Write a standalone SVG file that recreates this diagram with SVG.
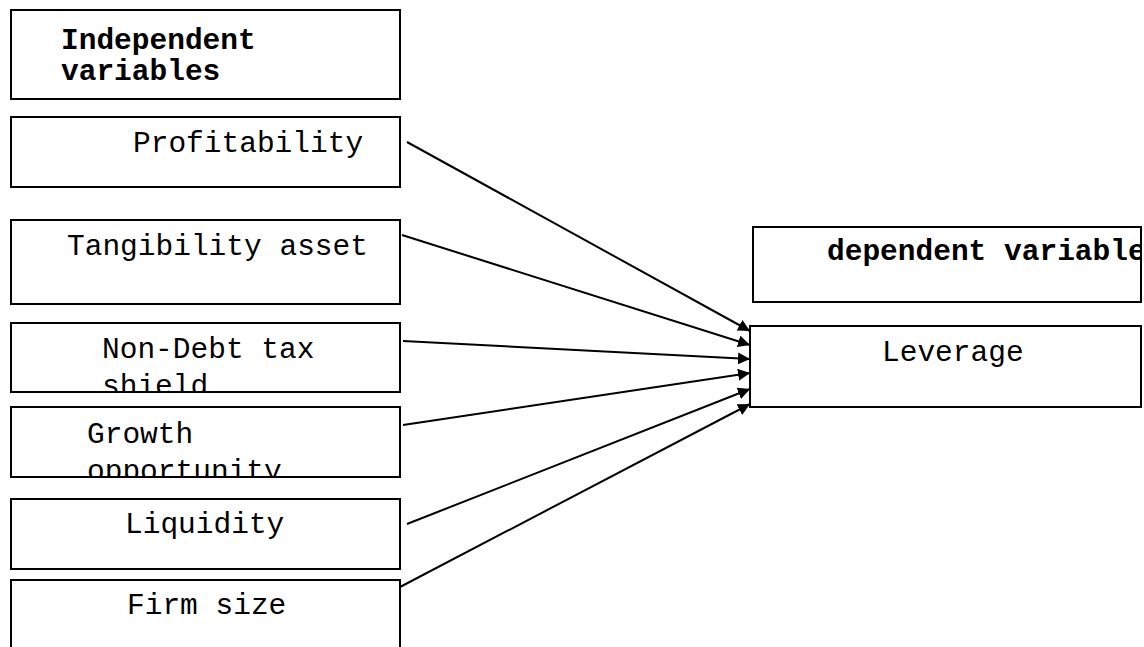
<svg xmlns="http://www.w3.org/2000/svg" width="1144" height="647" viewBox="0 0 1144 647">
  <style>
    .box { fill: #fff; stroke: #000; stroke-width: 2; }
    .t { font-family: "Liberation Mono", "Courier New", monospace; font-size: 29.5px; fill: #000; }
    .b { font-weight: bold; }
    .conn { stroke: #000; stroke-width: 2; fill: none; marker-end: url(#arrow); }
  </style>
  <defs>
    <marker id="arrow" markerUnits="userSpaceOnUse" markerWidth="13" markerHeight="13" refX="12" refY="6" orient="auto">
      <path d="M0,0 L12,6 L0,12 Z" fill="#000"/>
    </marker>
    <clipPath id="clipND"><rect x="11" y="323" width="389" height="69"/></clipPath>
    <clipPath id="clipGO"><rect x="11" y="407" width="389" height="70"/></clipPath>
    <clipPath id="clipDV"><rect x="753" y="227" width="388" height="75"/></clipPath>
  </defs>
  <rect width="1144" height="647" fill="#fff"/>

  <g id="independent-header">
    <rect class="box" x="11" y="10" width="389" height="89"/>
    <text class="t b" x="61" y="49">Independent</text>
    <text class="t b" x="61" y="80">variables</text>
  </g>
  <g id="profitability">
    <rect class="box" x="11" y="117" width="389" height="70"/>
    <text class="t" x="133" y="152">Profitability</text>
  </g>
  <g id="tangibility">
    <rect class="box" x="11" y="220" width="389" height="84"/>
    <text class="t" x="67" y="255">Tangibility asset</text>
  </g>
  <g id="non-debt">
    <rect class="box" x="11" y="323" width="389" height="69"/>
    <g clip-path="url(#clipND)">
      <text class="t" x="102" y="358">Non-Debt tax</text>
      <text class="t" x="102" y="395">shield</text>
    </g>
    <line x1="11" y1="392" x2="400" y2="392" stroke="#000" stroke-width="2"/>
  </g>
  <g id="growth">
    <rect class="box" x="11" y="407" width="389" height="70"/>
    <g clip-path="url(#clipGO)">
      <text class="t" x="87" y="443">Growth</text>
      <text class="t" x="87" y="480">opportunity</text>
    </g>
    <line x1="11" y1="477" x2="400" y2="477" stroke="#000" stroke-width="2"/>
  </g>
  <g id="liquidity">
    <rect class="box" x="11" y="499" width="389" height="70"/>
    <text class="t" x="125" y="533">Liquidity</text>
  </g>
  <g id="firm-size">
    <rect class="box" x="11" y="580" width="389" height="90"/>
    <text class="t" x="127" y="614">Firm size</text>
  </g>
  <g id="dependent-header">
    <rect class="box" x="753" y="227" width="388" height="75"/>
    <text class="t b" x="827" y="260" clip-path="url(#clipDV)">dependent variable</text>
  </g>
  <g id="leverage">
    <rect class="box" x="750" y="326" width="391" height="81"/>
    <text class="t" x="882" y="361">Leverage</text>
  </g>

  <g id="connectors">
    <line class="conn" x1="407" y1="142" x2="750" y2="331"/>
    <line class="conn" x1="402" y1="235" x2="750" y2="345"/>
    <line class="conn" x1="403" y1="341" x2="750" y2="359"/>
    <line class="conn" x1="403" y1="425" x2="750" y2="373"/>
    <line class="conn" x1="407" y1="524" x2="750" y2="389"/>
    <line class="conn" x1="400" y1="587" x2="750" y2="404"/>
  </g>
</svg>
